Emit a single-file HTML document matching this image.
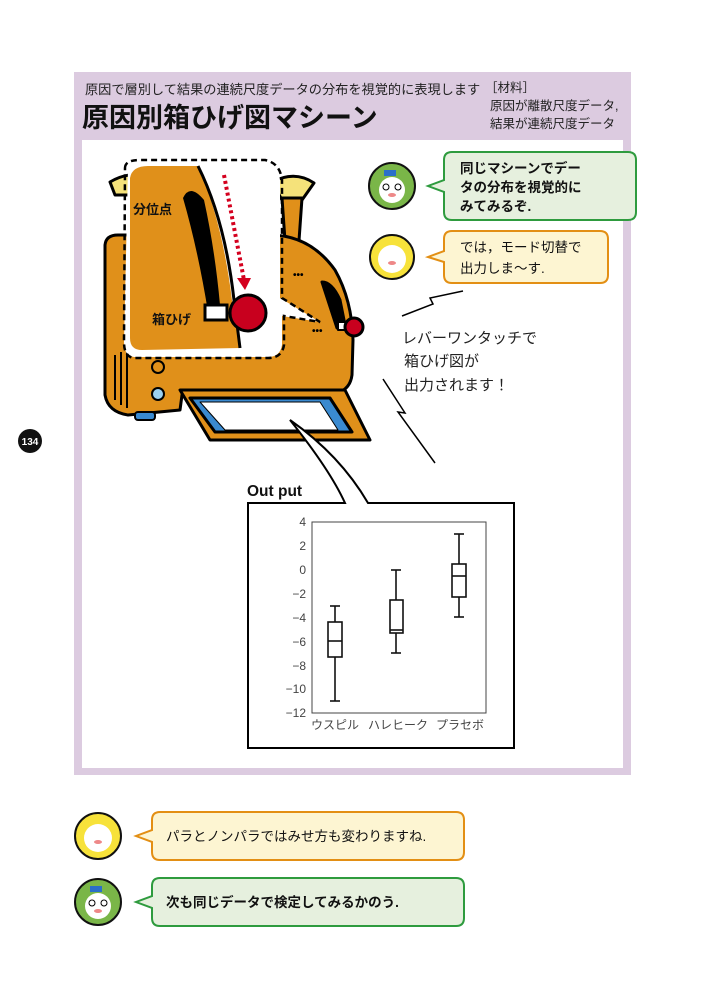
<!DOCTYPE html>
<html><head><meta charset="utf-8"><style>
body{margin:0;width:705px;height:1000px;background:#fff;overflow:hidden;font-family:"Liberation Sans","Noto Sans CJK JP",sans-serif}
svg{position:absolute;left:0;top:0}
text{font-family:"Liberation Sans","Noto Sans CJK JP",sans-serif}
</style></head><body>
<svg width="705" height="1000" viewBox="0 0 705 1000">
<!-- panel -->
<rect x="74" y="72" width="557" height="703" fill="#dccbe0"/>
<rect x="82" y="140" width="541" height="628" fill="#fff"/>
<text x="85" y="94" font-size="13.2" fill="#222">原因で層別して結果の連続尺度データの分布を視覚的に表現します</text>
<text x="82" y="127" font-size="27" font-weight="bold" fill="#111">原因別箱ひげ図マシーン</text>
<text x="485" y="92" font-size="12.5" fill="#222">［材料］</text>
<text x="490" y="110" font-size="12.5" fill="#222">原因が離散尺度データ,</text>
<text x="490" y="128" font-size="12.5" fill="#222">結果が連続尺度データ</text>
<!-- page number -->
<circle cx="30" cy="441" r="12" fill="#111"/>
<text x="30" y="445" font-size="10" fill="#fff" text-anchor="middle" font-weight="bold">134</text>

<!-- toaster -->
<g stroke="#000" stroke-width="3" stroke-linejoin="round">
<path d="M110 182 Q130 170 150 178 L150 195 L115 195 Z" fill="#f5e27a"/>
<path d="M272 182 Q295 170 314 183 L302 200 L282 200 Z" fill="#f5e27a"/>
<path d="M282 198 L302 198 L298 255 L286 255 Z" fill="#e0901a"/>
<path d="M105 245 Q106 235 118 235 L270 235 Q310 235 335 270 Q352 300 353 340 L352 375 Q350 392 330 395 L182 395 L180 410 L128 415 Q108 412 105 395 Z" fill="#e0901a"/>
<path d="M322 282 Q332 282 340 300 L345 325 L337 328 Z" fill="#000"/>
<path d="M180 390 L345 390 L370 440 L210 440 Z" fill="#e0901a"/>
<path d="M190 398 L330 398 L352 432 L215 432 Z" fill="#3a8ad0"/>
<path d="M200 402 L320 402 L338 430 L225 430 Z" fill="#fff" stroke-width="1"/>
<rect x="338" y="322" width="10" height="8" fill="#fff" stroke-width="2"/>
<circle cx="354" cy="327" r="9" fill="#c8001e"/>
<circle cx="158" cy="367" r="6" fill="#e0901a" stroke-width="2"/>
<circle cx="158" cy="394" r="6" fill="#9bd0f0" stroke-width="2"/>
<rect x="135" y="412" width="20" height="8" rx="3" fill="#3a8ad0" stroke-width="2"/>
</g>
<g stroke="#000" stroke-width="2">
<line x1="115" y1="355" x2="115" y2="400"/><line x1="121" y1="352" x2="121" y2="405"/><line x1="127" y1="350" x2="127" y2="408"/>
</g>
<!-- zoom window -->
<path d="M128 168 Q128 162 140 162 L265 162 Q278 165 280 180 L280 298 L320 322 L282 316 L282 345 Q280 357 268 357 L134 357 Q124 356 124 342 Z" fill="#fff"/>
<path d="M130 178 Q132 166 148 166 L198 166 Q222 220 232 300 L240 348 L142 350 Q130 350 130 338 Z" fill="#e0901a"/>
<path d="M198 166 Q225 220 234 300 L240 348" fill="none" stroke="#000" stroke-width="3"/>
<path d="M183 198 Q190 183 204 200 Q215 250 220 305 L208 312 Q198 250 183 198 Z" fill="#000"/>
<rect x="205" y="305" width="22" height="15" fill="#fff" stroke="#000" stroke-width="3"/>
<circle cx="248" cy="313" r="18" fill="#c8001e" stroke="#000" stroke-width="3"/>
<path d="M125 168 Q125 160 140 160 L265 160 Q280 163 282 180 L282 298 L320 322 L284 316 L284 345 Q282 358 268 358 L134 358 Q124 357 124 342 Z" fill="none" stroke="#000" stroke-width="2.5" stroke-dasharray="6 4"/>
<path d="M224 175 L244 280" stroke="#d4001e" stroke-width="4" stroke-dasharray="3 3" fill="none"/>
<path d="M237 278 L251 278 L245 290 Z" fill="#d4001e"/>
<text x="133" y="214" font-size="13" font-weight="bold" fill="#111">分位点</text>
<text x="152" y="324" font-size="13" font-weight="bold" fill="#111">箱ひげ</text>
<text x="293" y="278" font-size="10" font-weight="bold">•••</text>
<text x="312" y="334" font-size="10" font-weight="bold">•••</text>

<!-- lightning -->
<path d="M402 316 L433 304 L430 298 L463 291" fill="none" stroke="#000" stroke-width="1.5"/>
<path d="M383 379 L405 413 L398 412 L435 463" fill="none" stroke="#000" stroke-width="1.5"/>
<text x="402" y="343" font-size="15" fill="#222">レバーワンタッチで</text>
<text x="404" y="366" font-size="15" fill="#222">箱ひげ図が</text>
<text x="404" y="390" font-size="15" fill="#222">出力されます！</text>

<!-- chart frame with tail -->
<path d="M248 503 L345 503 Q330 470 290 420 Q340 455 368 503 L514 503 L514 748 L248 748 Z" fill="#fff" stroke="#000" stroke-width="2"/>
<text x="247" y="496" font-size="15.5" font-weight="bold" fill="#111">Out put</text>
<rect x="312" y="522" width="174" height="191" fill="none" stroke="#444" stroke-width="1"/>
<g font-size="12" fill="#444" text-anchor="end">
<text x="306" y="526">4</text><text x="306" y="550">2</text><text x="306" y="574">0</text>
<text x="306" y="598">−2</text><text x="306" y="622">−4</text><text x="306" y="646">−6</text>
<text x="306" y="670">−8</text><text x="306" y="693">−10</text><text x="306" y="717">−12</text>
</g>
<g font-size="12" fill="#444"><text x="311" y="729">ウスピル</text><text x="368" y="729">ハレヒーク</text><text x="436" y="729">プラセボ</text></g>
<g stroke="#111" stroke-width="1.6" fill="none">
<line x1="335" y1="606" x2="335" y2="701"/><line x1="330" y1="606" x2="340" y2="606"/><line x1="330" y1="701" x2="340" y2="701"/>
<rect x="328" y="622" width="14" height="35" fill="#fff"/><line x1="328" y1="641" x2="342" y2="641"/>
<line x1="396" y1="570" x2="396" y2="653"/><line x1="391" y1="570" x2="401" y2="570"/><line x1="391" y1="653" x2="401" y2="653"/>
<rect x="390" y="600" width="13" height="33" fill="#fff"/><line x1="390" y1="630" x2="403" y2="630"/>
<line x1="459" y1="534" x2="459" y2="617"/><line x1="454" y1="534" x2="464" y2="534"/><line x1="454" y1="617" x2="464" y2="617"/>
<rect x="452" y="564" width="14" height="33" fill="#fff"/><line x1="452" y1="576" x2="466" y2="576"/>
</g>

<!-- top bubbles -->
<circle cx="392" cy="186" r="23" fill="#7ab648" stroke="#111" stroke-width="2"/>
<circle cx="392" cy="190" r="13" fill="#fff"/><circle cx="386" cy="187" r="3" fill="none" stroke="#000"/><circle cx="398" cy="187" r="3" fill="none" stroke="#000"/>
<rect x="384" y="170" width="12" height="6" fill="#2a6fc9"/><ellipse cx="392" cy="195" rx="4" ry="2" fill="#e88"/>
<circle cx="392" cy="257" r="22" fill="#f7e23a" stroke="#111" stroke-width="2"/>
<circle cx="392" cy="259" r="14" fill="#fff"/><ellipse cx="392" cy="263" rx="4" ry="2" fill="#e88"/>
<path d="M452 152 L628 152 Q636 152 636 160 L636 212 Q636 220 628 220 L452 220 Q444 220 444 212 L444 192 L428 186 L444 180 L444 160 Q444 152 452 152 Z" fill="#e6f0de" stroke="#2e9b3e" stroke-width="2"/>
<text x="460" y="173" font-size="13.5" font-weight="bold" fill="#111">同じマシーンでデー</text>
<text x="460" y="192" font-size="13.5" font-weight="bold" fill="#111">タの分布を視覚的に</text>
<text x="460" y="211" font-size="13.5" font-weight="bold" fill="#111">みてみるぞ.</text>
<path d="M452 231 L600 231 Q608 231 608 239 L608 275 Q608 283 600 283 L452 283 Q444 283 444 275 L444 262 L428 257 L444 251 L444 239 Q444 231 452 231 Z" fill="#fdf5d2" stroke="#e38f14" stroke-width="2"/>
<text x="460" y="252" font-size="13.5" fill="#111">では，モード切替で</text>
<text x="460" y="273" font-size="13.5" fill="#111">出力しま〜す.</text>

<!-- bottom bubbles -->
<circle cx="98" cy="836" r="23" fill="#f7e23a" stroke="#111" stroke-width="2"/>
<circle cx="98" cy="838" r="14" fill="#fff"/><ellipse cx="98" cy="842" rx="4" ry="2" fill="#e88"/>
<path d="M160 812 L456 812 Q464 812 464 820 L464 852 Q464 860 456 860 L160 860 Q152 860 152 852 L152 842 L136 836 L152 830 L152 820 Q152 812 160 812 Z" fill="#fdf5d2" stroke="#e38f14" stroke-width="2"/>
<text x="166" y="841" font-size="13.5" fill="#111">パラとノンパラではみせ方も変わりますね.</text>
<circle cx="98" cy="902" r="23" fill="#7ab648" stroke="#111" stroke-width="2"/>
<circle cx="98" cy="906" r="13" fill="#fff"/><circle cx="92" cy="903" r="3" fill="none" stroke="#000"/><circle cx="104" cy="903" r="3" fill="none" stroke="#000"/>
<rect x="90" y="886" width="12" height="6" fill="#2a6fc9"/><ellipse cx="98" cy="911" rx="4" ry="2" fill="#e88"/>
<path d="M160 878 L456 878 Q464 878 464 886 L464 918 Q464 926 456 926 L160 926 Q152 926 152 918 L152 908 L136 902 L152 896 L152 886 Q152 878 160 878 Z" fill="#e6f0de" stroke="#2e9b3e" stroke-width="2"/>
<text x="166" y="907" font-size="13.5" font-weight="bold" fill="#111">次も同じデータで検定してみるかのう.</text>
</svg>
</body></html>
